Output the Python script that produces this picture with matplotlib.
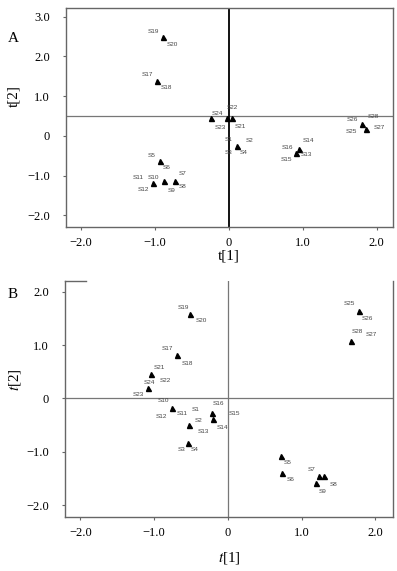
import matplotlib
matplotlib.use("Agg")
import matplotlib.pyplot as plt

# ---------------- Panel A data ----------------
a_t1 = [-0.89, -0.97, -0.93, -1.03, -0.88, -0.72, -0.24, -0.03, 0.05, 0.11, 0.95, 0.91, 1.80, 1.85]
a_t2 = [2.49, 1.39, -0.63, -1.18, -1.13, -1.13, 0.45, 0.45, 0.45, -0.25, -0.33, -0.43, 0.30, 0.18]
a_names = [["S19", "S20"], ["S17", "S18"], ["S5", "S6"], ["S11", "S12"], ["S10", "S9"],
           ["S7", "S8"], ["S24"], ["S22", "S23"], ["S21"], ["S1", "S2", "S3", "S4"],
           ["S14", "S16"], ["S13", "S15"], ["S26", "S28"], ["S25", "S27"]]
a_hline = 0.5

# ---------------- Panel B data ----------------
b_t1 = [-0.51, -0.69, -1.05, -1.08, -0.76, -0.53, -0.54, -0.22, -0.20, 0.72, 0.74, 1.23, 1.31, 1.20, 1.78, 1.67]
b_t2 = [1.59, 0.81, 0.45, 0.19, -0.17, -0.49, -0.83, -0.28, -0.39, -1.07, -1.39, -1.46, -1.46, -1.59, 1.63, 1.07]
b_names = [["S19", "S20"], ["S17", "S18"], ["S21", "S22"], ["S24", "S23"], ["S10", "S12", "S11"],
           ["S1", "S2", "S13"], ["S3", "S4"], ["S16", "S15"], ["S14"], ["S5"], ["S6"], ["S7"],
           ["S8"], ["S9"], ["S25", "S26"], ["S28", "S27"]]
b_hline = 0.0

tick_vals = [-2.0, -1.0, 0.0, 1.0, 2.0]
a_yticks = [-2.0, -1.0, 0.0, 1.0, 2.0, 3.0]
b_yticks = [-2.0, -1.0, 0.0, 1.0, 2.0]

def fmt(v):
    if v == 0:
        return "0"
    return ("\u2212" if v < 0 else "") + f"{abs(v):.1f}"

# label offsets (pixels, dx right, dy down) -- layout only
a_off = [[(-10, -6), (9, 7)], [(-10, -6), (9, 7)], [(-8, -6), (7, 6)], [(-14, -5), (-9, 7)],
         [(-10, -3), (8, 10)], [(7, -7), (7, 6)], [(6, -5)], [(6, -11), (-6, 9)], [(8, 8)],
         [(-8, -6), (13, -5), (-8, 7), (7, 7)], [(9, -9), (-12, -2)], [(10, 1), (-10, 6)],
         [(-10, -5), (11, -8)], [(-14, 3), (14, -1)]]
b_off = [[(-7, -6), (11, 7)], [(-10, -7), (10, 8)], [(9, -7), (15, 6)], [(1, -6), (-10, 6)],
         [(-8, -7), (-10, 9), (10, 6)], [(7, -15), (10, -4), (15, 7)], [(-7, 7), (7, 7)],
         [(7, -10), (23, 0)], [(9, 8)], [(7, 7)], [(8, 7)], [(-7, -7)], [(9, 8)], [(6, 8)],
         [(-10, -8), (8, 7)], [(6, -10), (20, -7)]]

W, H = 397, 571
fig = plt.figure(figsize=(W / 100, H / 100), dpi=100)

serif = "Liberation Serif"
spine_col = "#666666"

def make_axes(l, t, r, b):
    return fig.add_axes([l / W, 1 - b / H, (r - l) / W, (b - t) / H])

def style(ax, yticks):
    ax.set_xticks(tick_vals)
    ax.set_xticklabels([fmt(v) for v in tick_vals], fontfamily=serif, fontsize=9)
    ax.set_yticks(yticks)
    ax.set_yticklabels([fmt(v) for v in yticks], fontfamily=serif, fontsize=9)
    ax.tick_params(direction="out", length=2.5, width=0.8, color=spine_col)
    ax.tick_params(axis="x", pad=5)
    ax.tick_params(axis="y", pad=9)
    for s in ax.spines.values():
        s.set_color(spine_col)
        s.set_linewidth(1.0)

def draw_points(ax, xs, ys, names, offs):
    ax.plot(xs, ys, linestyle="none", marker="^", markersize=3.6, color="black", zorder=3)
    for x, y, nm, of in zip(xs, ys, names, offs):
        for n, (dx, dy) in zip(nm, of):
            ax.annotate(n, (x, y), xytext=(dx * 0.72, -dy * 0.72), textcoords="offset points",
                        ha="center", va="center", fontsize=4.6, color="#444444",
                        fontfamily="Liberation Sans")

# Panel A
axA = make_axes(66, 8, 393, 227)
axA.set_xlim(-2.2, 2.22)
axA.set_ylim(-2.29, 3.22)
style(axA, a_yticks)
axA.axhline(a_hline, color="#777777", lw=0.9, zorder=1)
axA.axvline(0, color="black", lw=1.3, zorder=1)
draw_points(axA, a_t1, a_t2, a_names, a_off)
fig.text(229 / W, 1 - 256 / H, "t[1]", fontfamily=serif, fontsize=11, ha="center", va="center")
fig.text(14 / W, 1 - 96 / H, "t[2]", fontfamily=serif, fontsize=11, ha="center", va="center", rotation=90)
fig.text(13 / W, 1 - 38 / H, "A", fontfamily=serif, fontsize=11, ha="center", va="center")

# Panel B
axB = make_axes(65, 281, 393, 517)
axB.set_xlim(-2.21, 2.24)
axB.set_ylim(-2.22, 2.2)
style(axB, b_yticks)
axB.spines["top"].set_visible(False)
axB.plot([0, 21 / 328], [1, 1], transform=axB.transAxes, color=spine_col, lw=1.0, clip_on=False)
axB.axhline(b_hline, color="#777777", lw=0.9, zorder=1)
axB.axvline(0, color="#777777", lw=0.9, zorder=1)
draw_points(axB, b_t1, b_t2, b_names, b_off)
fig.text(229 / W, 1 - 558 / H, "$t$[1]", fontfamily=serif, fontsize=11, ha="center", va="center",
         math_fontfamily="stix")
fig.text(15 / W, 1 - 380 / H, "$t$[2]", fontfamily=serif, fontsize=11, ha="center", va="center",
         rotation=90, math_fontfamily="stix")
fig.text(13 / W, 1 - 294 / H, "B", fontfamily=serif, fontsize=11, ha="center", va="center")

fig.savefig("out.png", dpi=100)
